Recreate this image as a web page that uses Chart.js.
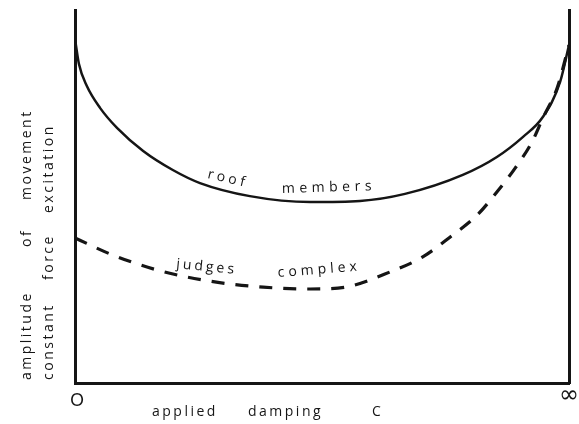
<!DOCTYPE html>
<html>
<head>
<meta charset="utf-8">
<script src="https://cdn.jsdelivr.net/npm/chart.js@4.4.1/dist/chart.umd.min.js"></script>
<style>
  html, body { margin: 0; padding: 0; background: #fff; }
  #wrap { width: 579px; height: 424px; }
</style>
</head>
<body>
<div id="wrap"><canvas id="dampChart"></canvas></div>
<script>
// damping axis runs 0 (left) .. infinity (right), scaled 0..100
const roofX = [0.1, 0.8, 2.4, 5.1, 8.5, 13.8, 19.8, 25.3, 35.4, 47.6, 57.7, 66.8, 78.5, 85.4, 90.7, 94.7, 98.2, 100];
const roofY = [91.4, 85.5, 79.6, 73.7, 68.4, 62.2, 57.1, 53.6, 50.1, 48.5, 48.8, 50.7, 55.8, 60.6, 66.0, 71.3, 80.7, 90.6];

const judgesX = [0, 7.1, 16.6, 27.3, 38.1, 47.6, 54.7, 64.2, 70.4, 75.9, 81.4, 85.4, 89.1, 92.5, 94.7, 97.6, 100];
const judgesY = [38.9, 34.6, 30.3, 27.3, 25.7, 25.2, 25.7, 30.0, 33.8, 39.1, 45.0, 51.2, 57.6, 64.6, 71.0, 79.1, 90.6];

const yTitle = [['amplitude', 'of', 'movement'], ['constant', 'force', 'excitation']];
const xTitle = ['applied', 'damping', 'C'];
const xEnds = ['O', '∞'];

const ink = '#151515';
const toPts = (xs, ys) => xs.map((x, i) => ({ x: x, y: ys[i] }));

// hand lettering: words placed along the sheet
const lettering = {
  id: 'lettering',
  afterDraw(chart) {
    const c = chart.ctx;
    c.save();
    c.fillStyle = ink;
    c.textBaseline = 'alphabetic';
    c.textAlign = 'left';
    c.letterSpacing = '2.5px';
    c.font = '14px "Open Sans"';

    // y titles, read bottom to top
    const yStarts = [[380, 247, 200], [380, 280, 213]];
    const yBase = [31, 53];
    yTitle.forEach((line, li) => {
      line.forEach((w, wi) => {
        c.save();
        c.translate(yBase[li], yStarts[li][wi]);
        c.rotate(-Math.PI / 2);
        c.fillText(w, 0, 0);
        c.restore();
      });
    });

    // x title
    const xStarts = [152, 248, 372];
    xTitle.forEach((w, i) => c.fillText(w, xStarts[i], 416));

    // ends of the damping axis
    c.letterSpacing = '0px';
    c.textAlign = 'center';
    c.font = '17px Lato';
    c.fillText(xEnds[0], 77, 406);
    c.font = '24px DejaVu Sans';
    c.fillText(xEnds[1], 569, 402);

    // curve labels
    c.textAlign = 'left';
    c.font = '14px "Open Sans"';
    const tags = [
      ['roof', 207, 178, 0.23, '3.5px'],
      ['members', 282, 193, -0.03, '4.5px'],
      ['judges', 176, 268, 0.1, '3px'],
      ['complex', 278, 277, -0.08, '4px']
    ];
    tags.forEach(t => {
      c.save();
      c.letterSpacing = t[4];
      c.translate(t[1], t[2]);
      c.rotate(t[3]);
      c.fillText(t[0], 0, 0);
      c.restore();
    });
    c.restore();
  }
};

const whiteBg = {
  id: 'whiteBg',
  beforeDraw(chart) {
    const c = chart.ctx;
    c.save();
    c.fillStyle = '#fff';
    c.fillRect(0, 0, chart.width, chart.height);
    c.restore();
  }
};

const bareAxis = (extra) => Object.assign({
  min: 0, max: 100,
  grid: { display: false, drawTicks: false, tickLength: 0 },
  ticks: { display: false, padding: 0 },
  border: { display: true, color: ink, width: 3 }
}, extra);

new Chart(document.getElementById('dampChart'), {
  type: 'line',
  data: {
    datasets: [
      {
        label: 'roof members',
        data: toPts(roofX, roofY),
        borderColor: ink,
        borderWidth: 2.5,
        pointRadius: 0,
        cubicInterpolationMode: 'monotone',
        fill: false
      },
      {
        label: 'judges complex',
        data: toPts(judgesX, judgesY),
        borderColor: ink,
        borderWidth: 3.2,
        borderDash: [13, 11],
        pointRadius: 0,
        cubicInterpolationMode: 'monotone',
        fill: false
      }
    ]
  },
  options: {
    responsive: true,
    maintainAspectRatio: false,
    animation: false,
    layout: { padding: { left: 75, right: 10, top: 10, bottom: 41 } },
    plugins: { legend: { display: false }, tooltip: { enabled: false } },
    scales: {
      x: bareAxis({ type: 'linear' }),
      y: bareAxis({}),
      y2: bareAxis({ position: 'right' })
    }
  },
  plugins: [whiteBg, lettering]
});
</script>
</body>
</html>
